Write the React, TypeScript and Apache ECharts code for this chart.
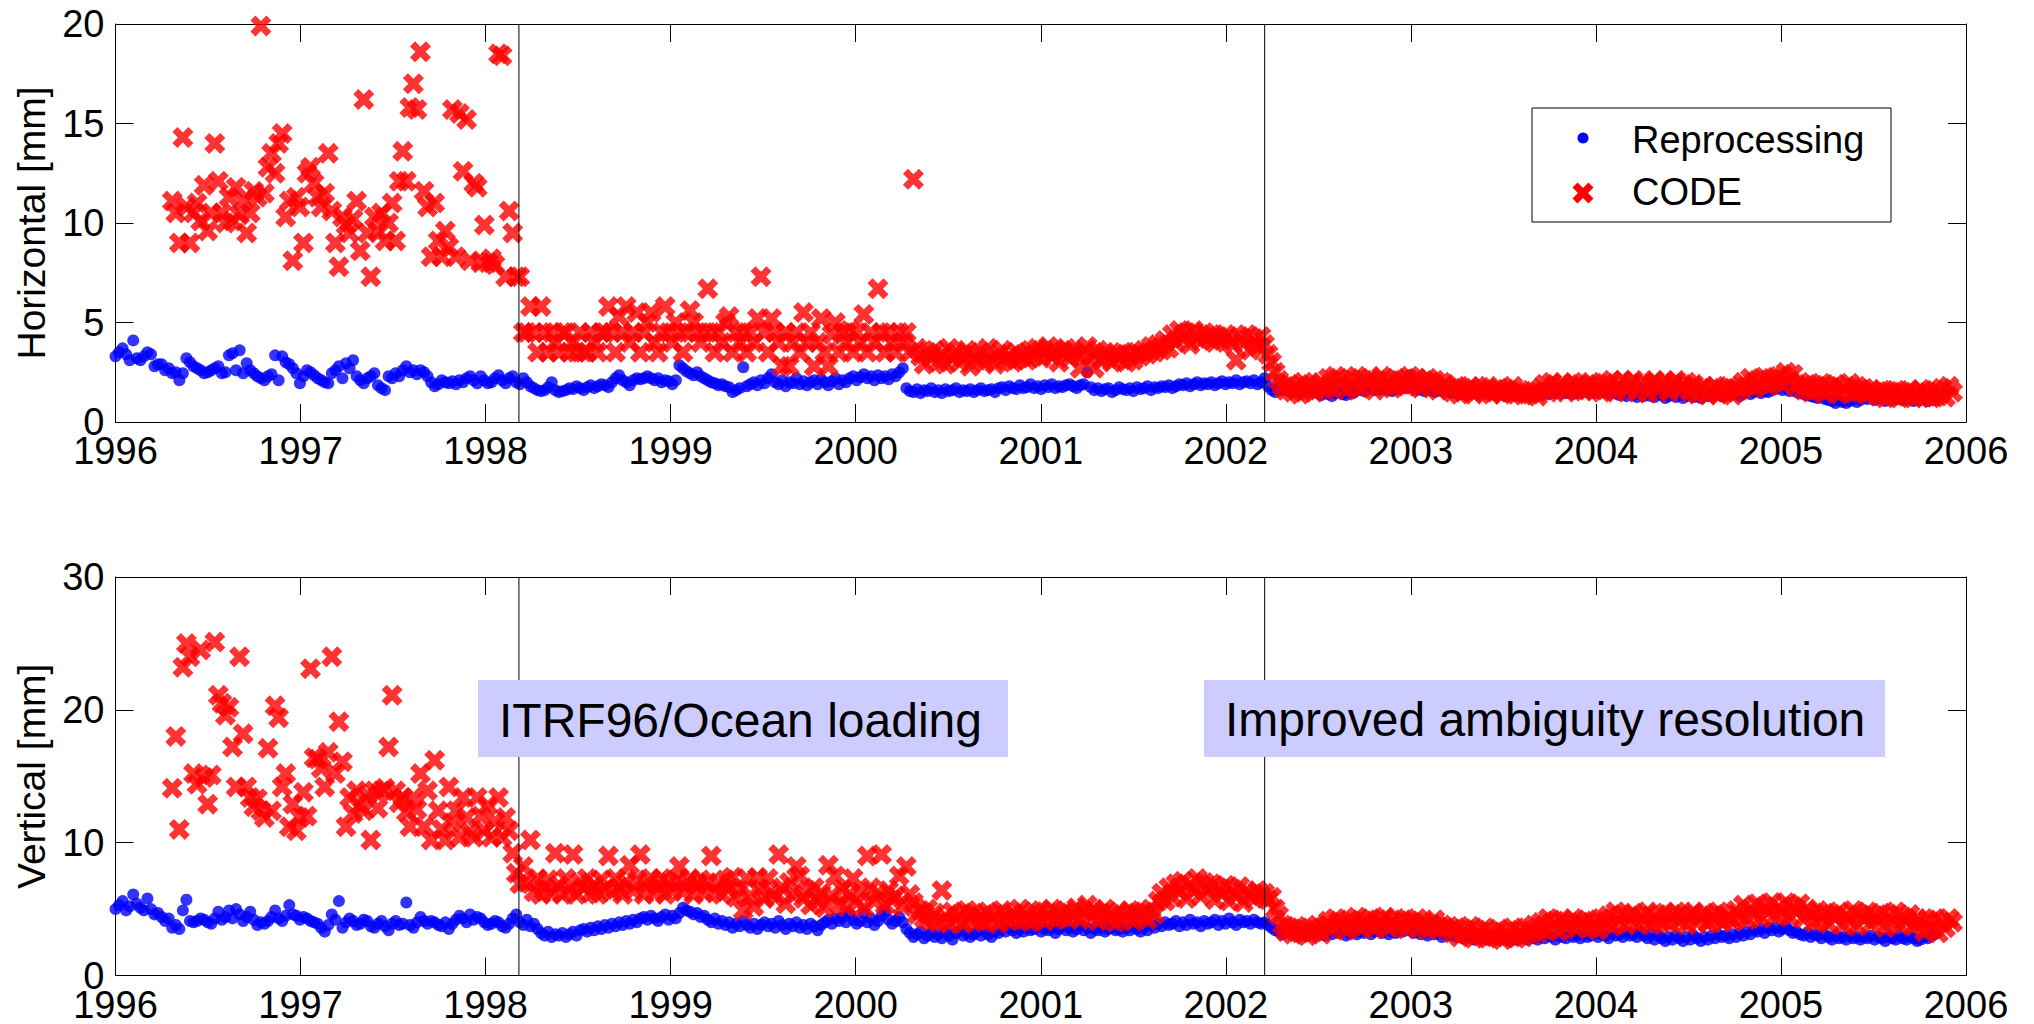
import React, { useEffect, useRef } from "react";
import * as echarts from "echarts";

// ---- time base: weekly solutions, index i -> 1996 + i weeks ----
const START_YEAR = 1996;
const WEEK = 7 / 365.25;
const X_TICKS = { min: 1996, max: 2006, interval: 1 };
const EVENT_EPOCHS = [1998.18, 2002.21];
const EVENT_LABELS = ["ITRF96/Ocean loading", "Improved ambiguity resolution"];
const LEGEND_NAMES = ["Reprocessing", "CODE"];
const Y_NAMES = ["Horizontal [mm]", "Vertical [mm]"];

// segment start indices (week numbers)
const REP_A0 = 0;
const CODE_A0 = 16;
const B0 = 114;
const C0 = 324;

// ---------------- Horizontal: Reprocessing ----------------
const hRepA = [
  3.3, 3.5, 3.7, 3.4, 3.1, 4.1, 3.2, 3.1, 3.3, 3.5, 3.4, 2.8, 2.9,
  2.9, 2.6, 2.7, 2.45, 2.5, 2.1, 2.45, 3.2, 3.0, 2.8, 2.7, 2.6, 2.45,
  2.5, 2.6, 2.7, 2.8, 2.45, 2.5, 3.35, 3.45, 2.6, 3.6, 2.45, 2.95, 2.6,
  2.45, 2.3, 2.2, 2.1, 2.3, 2.4, 3.35, 2.1, 3.3, 3.0, 2.9, 2.7, 2.45,
  1.95, 2.3, 2.6, 2.5, 2.35, 2.2, 2.1, 2.0, 1.95, 2.45, 2.6, 2.8, 2.2,
  2.95, 2.7, 3.1, 2.3, 2.1, 1.95, 2.2, 2.3, 2.45, 1.85, 1.7, 1.6, 2.3,
  2.2, 2.45, 2.3, 2.6, 2.8, 2.5, 2.6, 2.4, 2.6, 2.5, 2.3, 2.0, 1.8,
  1.9, 2.1, 2.0, 1.95, 2.05, 1.9, 2.1, 2.0, 2.2, 2.3, 2.1, 1.95, 2.3,
  2.1, 1.95, 2.0, 2.2, 2.35, 2.1, 1.95, 2.2, 2.3, 2.0,
];
const hRepB = [
  1.9, 2.2, 2.0, 1.8, 1.7, 1.6, 1.55, 1.6, 1.75, 2.0, 1.6, 1.5, 1.55,
  1.6, 1.7, 1.65, 1.8, 1.7, 1.6, 1.75, 1.85, 1.7, 1.8, 1.9, 1.85, 1.75,
  2.0, 2.2, 2.35, 2.1, 2.0, 1.85, 2.1, 2.2, 2.15, 2.2, 2.3, 2.2, 2.1,
  2.2, 2.0, 2.1, 2.05, 1.9, 2.1, 2.85, 2.7, 2.55, 2.45, 2.35, 2.5, 2.3,
  2.2, 2.1, 2.0, 1.95, 1.85, 1.9, 1.8, 1.75, 1.5, 1.6, 1.7, 2.75, 1.8,
  1.9, 2.0, 1.85, 2.1, 1.95, 2.2, 2.4, 2.0, 1.9, 2.1, 1.8, 2.0, 1.95,
  2.2, 1.9, 2.05, 1.85, 2.0, 2.1, 1.9, 2.15, 2.0, 1.85, 2.05, 2.2, 1.9,
  2.1, 2.0, 2.2, 2.3, 2.1, 2.25, 2.4, 2.2, 2.3, 2.1, 2.35, 2.2, 2.3,
  2.15, 2.4, 2.3, 2.5, 2.7, 1.7, 1.55, 1.5, 1.65, 1.45, 1.6, 1.55, 1.7,
  1.5, 1.6, 1.45, 1.65, 1.55, 1.6, 1.7, 1.5, 1.6, 1.55, 1.65, 1.5, 1.6,
  1.7, 1.55, 1.6, 1.65, 1.5, 1.7, 1.75, 1.6, 1.8, 1.7, 1.65, 1.85, 1.7,
  1.75, 1.9, 1.7, 1.8, 1.65, 1.85, 1.75, 1.9, 1.7, 1.8, 1.75, 1.85, 1.9,
  1.8, 1.7, 1.85, 1.9, 2.5, 1.75, 1.6, 1.7, 1.55, 1.65, 1.7, 1.5, 1.6,
  1.75, 1.65, 1.6, 1.7, 1.55, 1.75, 1.65, 1.7, 1.8, 1.6, 1.75, 1.7, 1.8,
  1.75, 1.85, 1.7, 1.8, 1.9, 1.85, 1.95, 1.8, 1.9, 2.0, 1.85, 1.95, 1.9,
  2.0, 1.85, 1.95, 2.05, 1.9, 2.0, 1.95, 2.1, 1.9, 2.0, 2.05, 1.95, 2.1,
  1.9, 2.0,
];
const hRepC = [
  2.2, 1.8, 1.6, 1.5, 1.7, 1.6, 1.75, 1.55, 1.7, 1.6, 1.8, 1.65, 1.7,
  1.5, 1.6, 1.45, 1.35, 1.5, 1.4, 1.3, 1.45, 1.55, 1.4, 1.35, 1.5, 1.45,
  1.6, 1.7, 1.55, 1.65, 1.8, 1.6, 1.7, 1.65, 1.75, 1.6, 1.55, 1.7, 1.65,
  1.8, 1.7, 2.35, 1.75, 1.6, 1.7, 1.55, 1.65, 1.6, 1.5, 1.65, 1.55, 1.6,
  1.5, 1.45, 1.55, 1.4, 1.5, 1.35, 1.45, 1.5, 1.4, 1.55, 1.45, 1.4, 1.5,
  1.35, 1.45, 1.4, 1.3, 1.45, 1.35, 1.4, 1.3, 1.4, 1.35, 1.3, 1.4, 1.35,
  1.45, 1.5, 1.4, 1.55, 1.45, 1.6, 1.5, 1.45, 1.55, 1.4, 1.5, 1.45, 1.55,
  1.5, 1.6, 1.45, 1.55, 1.5, 1.65, 1.4, 1.5, 1.45, 1.35, 1.4, 1.3, 1.45,
  1.35, 1.25, 1.4, 1.3, 1.45, 1.3, 1.25, 1.4, 1.35, 1.2, 1.3, 1.4, 1.25,
  1.35, 1.2, 1.3, 1.4, 1.25, 1.3, 1.2, 1.35, 1.3, 1.45, 1.35, 1.4, 1.3,
  1.45, 1.35, 1.5, 1.4, 1.3, 1.45, 1.55, 1.4, 1.5, 1.6, 1.45, 1.55, 1.5,
  1.6, 1.65, 1.75, 1.6, 1.7, 1.55, 1.65, 1.5, 1.45, 1.4, 1.35, 1.3, 1.25,
  1.2, 1.3, 1.15, 1.1, 1.05, 0.95, 1.1, 1.0, 0.95, 1.05, 1.15, 1.0, 1.1,
  1.2, 1.15, 1.25, 1.1, 1.2, 1.15, 1.05, 1.2, 1.1, 1.15, 1.25, 1.1, 1.2,
  1.15, 1.05, 1.2, 1.1, 1.15, 1.05, 1.2, 1.1,
];

// ---------------- Horizontal: CODE ----------------
const hCodeA = [
  11.1, 10.5, 9.0, 14.3, 10.8, 9.0, 10.5, 11.0, 10.1, 11.9, 9.6, 10.5, 14.0,
  12.1, 10.5, 10.0, 11.3, 10.1, 11.8, 10.4, 11.1, 9.5, 10.5, 11.6, 11.3, 19.9,
  11.5, 12.8, 13.5, 12.5, 14.0, 14.5, 10.3, 11.1, 8.1, 11.3, 10.8, 9.0, 12.5,
  12.8, 12.0, 11.3, 10.8, 11.5, 13.5, 10.6, 9.0, 7.8, 10.3, 9.9, 9.5, 10.2,
  11.1, 8.6, 16.2, 9.5, 7.3, 10.3, 9.6, 10.5, 9.1, 10.0, 11.0, 9.1, 12.1,
  13.6, 12.1, 15.8, 17.0, 15.7, 18.6, 11.6, 10.8, 8.3, 11.0, 9.1, 8.3, 9.6,
  8.8, 15.7, 8.3, 15.5, 12.6, 15.2, 8.1, 12.0, 11.8, 8.0, 9.9, 8.0, 8.2,
  7.9, 18.5, 18.4, 7.3, 10.6, 9.5, 7.3,
];
const hCodeB = [
  7.3, 4.5, 4.5, 5.8, 4.5, 3.5, 5.8, 4.5, 3.5, 4.5, 4.0, 3.5, 4.5,
  4.5, 3.5, 4.0, 3.5, 4.5, 3.5, 3.5, 4.5, 4.0, 3.5, 4.5, 4.5, 5.8,
  4.5, 3.5, 5.3, 4.5, 5.8, 4.0, 4.5, 5.5, 3.5, 4.5, 5.0, 5.5, 4.0,
  3.5, 4.5, 5.8, 4.5, 4.0, 5.0, 4.5, 3.5, 4.5, 5.6, 5.0, 4.5, 4.0,
  4.5, 6.7, 4.5, 3.5, 4.5, 4.0, 5.0, 5.3, 3.5, 4.5, 4.0, 4.5, 3.5,
  4.5, 4.0, 5.2, 7.3, 4.5, 3.5, 5.2, 4.5, 4.0, 2.8, 4.5, 2.8, 4.0,
  4.5, 3.5, 5.5, 4.0, 4.5, 2.8, 4.0, 5.2, 3.5, 2.8, 4.4, 5.0, 3.5,
  4.5, 4.0, 4.6, 3.5, 4.5, 4.0, 5.4, 3.5, 4.5, 4.0, 6.7, 4.5, 3.5,
  4.5, 4.0, 3.5, 4.5, 4.0, 4.5, 3.5, 12.2, 3.7, 3.3, 2.9, 3.5, 3.2,
  3.6, 3.0, 3.4, 2.9, 3.7, 3.2, 3.5, 3.0, 3.3, 3.6, 2.8, 3.4, 3.1,
  3.5, 3.0, 3.7, 3.2, 2.9, 3.4, 3.6, 3.1, 3.3, 3.0, 3.5, 3.2, 3.4,
  3.1, 3.6, 3.3, 3.7, 3.2, 3.5, 3.8, 3.3, 3.6, 3.0, 3.5, 3.7, 3.2,
  3.6, 3.4, 2.7, 3.5, 3.8, 3.3, 2.7, 3.6, 3.1, 3.5, 3.3, 3.0, 3.4,
  3.2, 3.5, 3.0, 3.4, 3.1, 3.5, 3.3, 3.6, 3.4, 3.8, 3.5, 3.9, 3.6,
  4.1, 3.7, 4.4, 4.0, 4.6, 4.2, 4.5, 3.9, 4.6, 4.3, 4.1, 4.5, 4.2,
  4.4, 4.0, 4.3, 4.1, 4.4, 4.2, 3.9, 3.1, 4.3, 4.0, 4.4, 3.6, 4.2,
  3.8, 4.3,
];
const hCodeC = [
  3.9, 3.4, 3.0, 2.5, 2.1, 1.8, 1.6, 1.9, 1.5, 1.8, 1.4, 2.0, 1.6,
  1.9, 1.5, 1.8, 2.0, 1.6, 2.2, 1.7, 2.3, 1.9, 2.1, 1.6, 2.2, 1.8,
  2.3, 1.7, 2.1, 1.9, 2.2, 1.6, 2.0, 2.3, 1.8, 2.1, 1.7, 2.2, 1.9,
  2.1, 1.8, 2.3, 1.9, 2.2, 1.7, 2.0, 2.2, 1.8, 2.1, 1.6, 2.0, 1.9,
  1.7, 1.5, 1.8, 1.4, 1.7, 1.6, 1.8, 1.4, 1.6, 1.75, 1.5, 1.8, 1.4,
  1.6, 1.7, 1.4, 1.65, 1.5, 1.8, 1.4, 1.6, 1.35, 1.5, 1.4, 1.55, 1.3,
  1.7, 1.9, 1.5, 2.0, 1.6, 1.8, 1.95, 1.5, 1.7, 2.0, 1.6, 1.9, 1.55,
  1.8, 2.0, 1.6, 1.9, 1.5, 1.95, 1.7, 2.1, 1.5, 1.8, 2.1, 1.6, 1.9,
  2.1, 1.5, 1.8, 2.0, 1.45, 1.9, 2.1, 1.6, 1.85, 2.05, 1.5, 1.9, 2.1,
  1.6, 1.8, 2.0, 1.5, 1.9, 1.4, 1.7, 1.8, 1.35, 1.6, 1.8, 1.4, 1.7,
  1.5, 1.8, 1.35, 1.7, 1.6, 2.0, 1.8, 2.2, 1.7, 2.1, 1.9, 2.25, 1.8,
  2.2, 2.0, 2.3, 1.9, 2.5, 2.1, 2.4, 1.8, 2.0, 1.6, 1.9, 1.5, 1.85,
  1.6, 1.95, 1.45, 1.8, 1.6, 1.9, 1.4, 1.75, 1.55, 1.95, 1.45, 1.8, 1.5,
  1.7, 1.4, 1.65, 1.5, 1.3, 1.6, 1.2, 1.55, 1.35, 1.6, 1.2, 1.5, 1.3,
  1.6, 1.2, 1.45, 1.65, 1.25, 1.5, 1.2, 1.6, 1.3, 1.7, 1.25, 1.8, 1.5,
];

// ---------------- Vertical: Reprocessing ----------------
const vRepA = [
  5.0, 5.3, 5.6, 4.9, 5.2, 6.1, 5.4, 5.1, 4.9, 5.8, 5.0, 4.6, 4.7,
  4.4, 4.1, 4.3, 3.6, 3.8, 3.5, 4.9, 5.7, 4.1, 4.0, 4.1, 4.3, 4.2,
  4.0, 3.9, 4.3, 4.8, 4.2, 4.4, 4.9, 4.3, 5.0, 4.6, 4.1, 4.4, 4.8,
  4.2, 3.8, 4.0, 3.9, 4.1, 4.4, 4.9, 4.3, 4.1, 4.5, 5.3, 4.6, 4.5,
  4.2, 4.4, 4.3, 4.1, 4.0, 3.9, 3.6, 3.3, 3.8, 4.6, 4.2, 5.6, 3.6,
  4.0, 4.3, 4.1, 3.8, 3.9, 4.2, 4.1, 3.7, 3.6, 3.9, 4.1, 3.7, 3.4,
  3.9, 4.1, 3.8, 3.9, 5.5, 3.8, 3.6, 4.0, 4.4, 4.1, 3.9, 4.1, 4.0,
  3.8, 3.7, 4.0, 3.5, 3.9, 4.2, 4.5, 4.3, 4.0, 4.6, 4.2, 4.4, 4.3,
  4.0, 3.8, 3.9, 4.1, 4.0, 3.7, 3.6, 3.9, 4.3, 4.6,
];
const vRepB = [
  4.0, 3.8, 4.2, 3.7, 3.9, 3.5, 3.2, 3.0, 3.3, 2.9, 3.1, 3.0, 3.2,
  2.9, 3.1, 3.3, 3.0, 3.4, 3.5, 3.3, 3.6, 3.4, 3.7, 3.5, 3.8, 3.6,
  3.9, 3.7, 4.0, 3.8, 4.1, 3.9, 4.2, 4.0, 4.3, 4.4, 4.2, 4.5, 4.3,
  4.1, 4.4, 4.6, 4.2, 4.5, 4.3, 4.7, 5.1, 4.9, 4.8, 4.6, 4.7, 4.4,
  4.5, 4.2, 4.0, 4.3, 3.9, 4.1, 3.8, 4.0, 3.6, 3.9, 3.7, 4.1, 3.8,
  3.6, 3.9, 3.5, 3.8, 4.0, 3.7, 3.9, 3.6, 4.1, 3.8, 3.5, 3.9, 3.7,
  4.0, 3.6, 3.8, 3.5, 3.9, 3.7, 3.4, 3.8, 4.0, 4.2, 3.9, 4.3, 4.1,
  4.4, 4.0, 4.6, 4.2, 3.9, 4.1, 4.7, 4.0, 4.3, 3.8, 4.1, 4.5, 4.8,
  4.2, 3.9, 4.1, 4.4, 4.0, 3.5, 3.2, 2.9, 3.1, 3.3, 2.8, 3.0, 3.2,
  2.9, 3.1, 2.8, 3.3, 3.0, 2.7, 3.2, 3.4, 3.0, 3.2, 2.9, 3.1, 3.3,
  3.0, 3.4, 3.1, 2.9, 3.3, 3.2, 3.5, 3.3, 3.6, 3.4, 3.2, 3.5, 3.3,
  3.6, 3.4, 3.5, 3.7, 3.3, 3.5, 3.4, 3.6, 3.2, 3.5, 3.7, 3.4, 3.6,
  3.3, 3.5, 3.8, 3.4, 3.6, 3.2, 3.5, 3.4, 3.7, 3.3, 3.5, 3.6, 3.4,
  3.5, 3.3, 3.6, 3.4, 3.7, 3.5, 3.3, 3.6, 3.4, 3.8, 3.6, 3.9, 3.7,
  4.0, 3.8, 3.9, 4.1, 3.7, 4.0, 3.8, 4.2, 3.9, 4.0, 3.7, 4.1, 3.9,
  4.0, 4.2, 3.8, 4.1, 3.9, 4.3, 4.0, 3.8, 4.2, 4.0, 4.1, 3.9, 4.2,
  4.0, 3.9,
];
const vRepC = [
  4.0, 3.8, 3.6, 3.4, 3.3, 3.1, 3.3, 3.2, 3.4, 3.1, 3.3, 3.2, 3.0,
  3.3, 3.1, 3.4, 3.2, 3.0, 3.3, 3.1, 3.4, 3.2, 3.3, 3.0, 3.2, 3.4,
  3.1, 3.3, 3.2, 3.4, 3.1, 3.3, 3.5, 3.2, 3.4, 3.1, 3.3, 3.2, 3.4,
  3.3, 3.5, 3.4, 3.2, 3.3, 3.1, 3.2, 3.0, 3.3, 3.1, 3.2, 2.9, 3.1,
  3.0, 3.2, 2.9, 3.1, 2.8, 3.0, 2.9, 2.7, 2.9, 2.8, 3.0, 2.7, 2.9,
  2.8, 2.7, 2.9, 2.8, 2.6, 2.8, 2.7, 2.9, 2.8, 2.7, 2.9, 2.8, 2.7,
  2.9, 2.8, 3.0, 2.9, 2.7, 3.0, 2.9, 2.8, 3.1, 2.9, 3.0, 2.8, 3.1,
  2.9, 3.0, 3.2, 2.9, 3.1, 3.0, 2.8, 3.2, 3.0, 3.1, 2.9, 3.2, 3.0,
  3.1, 2.9, 3.3, 3.0, 2.8, 3.1, 2.7, 3.0, 2.8, 2.6, 2.9, 2.7, 3.0,
  2.8, 2.6, 2.9, 2.7, 3.0, 2.8, 2.6, 2.9, 2.7, 3.0, 2.8, 3.1, 2.9,
  3.0, 2.8, 3.1, 2.9, 3.2, 3.0, 3.3, 3.1, 3.4, 3.3, 3.5, 3.2, 3.6,
  3.4, 3.6, 3.3, 3.5, 3.7, 3.4, 3.2, 3.3, 3.1, 3.0, 3.2, 2.9, 3.1,
  3.0, 2.8, 3.1, 2.9, 2.7, 3.0, 2.8, 2.9, 2.7, 3.0, 2.8, 2.9, 2.7,
  2.9, 2.8, 3.0, 2.7, 2.9, 2.8, 2.6, 2.9, 2.8, 2.7, 3.0, 2.8, 2.7,
  2.9, 2.8, 2.6, 2.7, 2.9, 2.8, 3.0, 3.1,
];

// ---------------- Vertical: CODE ----------------
const vCodeA = [
  14.1, 18.0, 11.0, 23.2, 25.0, 24.0, 15.2, 14.4, 24.5, 14.9, 12.9, 15.1, 25.1,
  21.1, 20.5, 19.6, 20.2, 17.2, 14.2, 24.0, 18.2, 14.2, 13.4, 12.7, 13.3, 12.4,
  11.9, 17.1, 12.4, 20.3, 19.4, 14.2, 15.2, 11.2, 12.9, 10.9, 11.9, 13.8, 12.0,
  23.1, 16.4, 16.3, 15.6, 14.2, 16.8, 24.0, 15.2, 19.1, 16.1, 11.2, 13.4, 12.2,
  13.9, 12.8, 12.4, 13.6, 10.2, 13.9, 12.6, 13.9, 14.1, 17.2, 21.1, 13.9, 13.0,
  13.4, 12.3, 11.2, 13.4, 12.5, 15.2, 11.2, 13.9, 10.2, 16.2, 12.4, 11.0, 10.2,
  14.2, 11.5, 12.4, 10.4, 13.4, 11.9, 10.8, 10.4, 13.4, 12.0, 10.9, 12.8, 10.4,
  11.6, 13.4, 10.4, 11.9, 10.9, 9.2, 7.7,
];
const vCodeB = [
  6.9, 8.2, 7.0, 10.2, 6.3, 7.3, 6.1, 6.6, 7.2, 6.2, 9.2, 6.8, 6.1,
  7.3, 6.4, 9.1, 6.1, 7.0, 6.6, 7.3, 6.2, 6.8, 6.1, 7.2, 6.5, 9.0,
  6.3, 7.3, 6.6, 6.1, 7.0, 8.3, 6.4, 7.2, 9.1, 6.1, 6.9, 7.3, 6.2,
  6.7, 7.3, 6.1, 7.0, 6.4, 7.2, 8.2, 6.3, 6.9, 7.3, 6.1, 6.8, 7.2,
  6.2, 7.0, 9.0, 6.3, 6.9, 6.1, 7.2, 6.6, 7.4, 5.9, 6.4, 4.9, 7.3,
  6.0, 5.2, 7.4, 6.5, 5.8, 7.3, 6.2, 5.9, 9.1, 6.6, 5.4, 7.0, 6.1,
  8.2, 7.5, 5.8, 6.4, 5.3, 6.6, 5.6, 6.2, 5.1, 8.3, 6.0, 7.5, 5.4,
  6.5, 5.2, 6.1, 7.3, 5.5, 6.3, 5.1, 9.0, 6.6, 5.6, 6.2, 9.1, 5.3,
  6.4, 5.7, 6.0, 7.5, 5.2, 8.2, 6.1, 5.5, 4.6, 4.9, 4.3, 5.0, 4.1,
  4.7, 4.0, 6.4, 4.4, 3.9, 4.8, 4.2, 4.6, 3.9, 4.9, 4.3, 4.7, 4.1,
  4.5, 4.0, 4.8, 4.2, 4.6, 3.9, 4.9, 4.4, 4.1, 4.7, 4.3, 5.0, 4.2,
  4.6, 4.0, 4.8, 4.3, 4.9, 4.1, 4.5, 5.0, 4.2, 4.7, 4.4, 4.9, 4.3,
  4.6, 5.1, 4.2, 4.8, 5.3, 4.4, 4.9, 4.1, 4.7, 5.0, 4.3, 4.6, 4.0,
  4.8, 4.2, 4.5, 4.9, 4.1, 4.7, 4.4, 4.8, 4.2, 5.0, 4.6, 5.6, 6.2,
  5.6, 6.6, 5.9, 6.9, 6.3, 7.1, 5.8, 6.8, 6.4, 7.3, 6.0, 7.0, 6.5,
  6.9, 5.7, 6.6, 6.2, 6.8, 5.6, 6.5, 6.0, 6.7, 5.5, 6.3, 6.1, 5.8,
  6.4, 6.0,
];
const vCodeC = [
  6.2, 5.7, 5.9, 5.0, 4.5, 3.8, 3.3, 3.6, 3.1, 3.7, 3.2, 3.5, 3.0,
  3.6, 3.3, 3.8, 3.1, 3.7, 4.1, 3.5, 4.3, 3.8, 4.0, 3.4, 4.2, 3.7,
  4.4, 3.6, 4.1, 3.9, 4.3, 3.5, 4.2, 3.8, 4.4, 3.6, 4.0, 4.3, 3.7,
  4.2, 3.5, 4.1, 3.9, 4.3, 3.6, 4.0, 3.4, 3.9, 4.2, 3.6, 3.8, 3.5,
  3.7, 3.2, 3.6, 2.9, 3.5, 3.1, 3.7, 2.8, 3.4, 3.0, 3.6, 2.8, 3.3,
  2.9, 3.5, 2.7, 3.3, 3.0, 3.6, 2.8, 3.4, 2.9, 3.6, 3.1, 3.8, 3.2,
  4.0, 3.4, 4.3, 3.6, 4.1, 3.3, 4.2, 3.7, 3.9, 4.3, 3.5, 4.0, 3.8,
  4.2, 3.6, 4.1, 3.4, 4.3, 3.9, 4.5, 3.7, 4.8, 4.0, 4.6, 3.8, 4.4,
  4.7, 3.9, 4.5, 4.1, 4.8, 3.8, 4.3, 4.6, 4.0, 4.7, 3.9, 4.4, 4.8,
  4.1, 4.6, 3.8, 4.5, 4.8, 4.0, 4.4, 4.7, 3.9, 4.5, 4.2, 4.8, 4.0,
  4.6, 4.3, 4.1, 4.9, 4.4, 5.3, 4.2, 5.0, 4.6, 5.4, 4.3, 5.2, 4.8,
  5.5, 4.5, 5.1, 4.7, 5.5, 4.4, 5.2, 4.8, 5.4, 4.3, 5.0, 4.6, 4.0,
  4.9, 4.2, 4.7, 3.9, 4.6, 4.4, 4.8, 3.8, 4.5, 4.1, 4.9, 3.7, 4.6,
  4.3, 4.8, 3.9, 4.5, 4.2, 4.7, 3.6, 4.6, 4.0, 4.8, 3.8, 4.4, 4.1,
  4.6, 3.7, 4.3, 3.9, 3.3, 4.2, 3.5, 4.3, 3.2, 4.0, 3.6, 4.3, 4.0,
];

// ---------------- helpers ----------------
const FONT = '"Liberation Sans", Arial, Helvetica, sans-serif';
const BLUE = "#0000ff";
const RED = "#ff0000";
const BOX_FILL = "#ccccff";
const X_PATH =
  "path://M0,2.4L2.4,0L5,2.6L7.6,0L10,2.4L7.4,5L10,7.6L7.6,10L5,7.4L2.4,10L0,7.6L2.6,5Z";
const X_POLY = [
  [0, 2.4], [2.4, 0], [5, 2.6], [7.6, 0], [10, 2.4], [7.4, 5],
  [10, 7.6], [7.6, 10], [5, 7.4], [2.4, 10], [0, 7.6], [2.6, 5],
];

function toPoints(start: number, vals: number[]) {
  return vals.map((v, k) => [START_YEAR + (start + k) * WEEK, v]);
}

function mkX(grid: number, position: "top" | "bottom", labels: boolean) {
  return {
    type: "value",
    gridIndex: grid,
    position,
    min: X_TICKS.min,
    max: X_TICKS.max,
    interval: X_TICKS.interval,
    axisLine: { show: true, onZero: false, lineStyle: { color: "#000", width: 1 } },
    axisTick: { show: true, inside: true, length: 18, lineStyle: { color: "#000", width: 1 } },
    axisLabel: {
      show: labels,
      fontSize: 38,
      lineHeight: 28,
      fontFamily: FONT,
      color: "#000",
      margin: 15,
      formatter: (v: number) => String(Math.round(v)),
    },
    splitLine: { show: false },
  };
}

function mkY(grid: number, position: "left" | "right", max: number, interval: number, name: string | null) {
  return {
    type: "value",
    gridIndex: grid,
    position,
    min: 0,
    max,
    interval,
    name: name || "",
    nameLocation: "middle",
    nameRotate: 90,
    nameGap: 64,
    nameTextStyle: { fontSize: 39, fontFamily: FONT, color: "#000" },
    axisLine: { show: true, onZero: false, lineStyle: { color: "#000", width: 1 } },
    axisTick: { show: true, inside: true, length: 18, lineStyle: { color: "#000", width: 1 } },
    axisLabel: {
      show: position === "left",
      fontSize: 38,
      lineHeight: 28,
      fontFamily: FONT,
      color: "#000",
      margin: 11,
    },
    splitLine: { show: false },
  };
}

function eventLine(xIdx: number, yIdx: number, epoch: number, top: number) {
  return {
    type: "line",
    xAxisIndex: xIdx,
    yAxisIndex: yIdx,
    data: [
      [epoch, 0],
      [epoch, top],
    ],
    symbol: "none",
    lineStyle: { color: "#000", width: 1 },
    silent: true,
    z: 5,
  };
}

export default function App() {
  const ref = useRef<HTMLDivElement>(null);

  useEffect(() => {
    if (!ref.current) return;
    document.body.style.margin = "0";
    const chart = echarts.init(ref.current, null, { renderer: "svg" });

    const hRep = [...toPoints(REP_A0, hRepA), ...toPoints(B0, hRepB), ...toPoints(C0, hRepC)];
    const hCode = [...toPoints(CODE_A0, hCodeA), ...toPoints(B0, hCodeB), ...toPoints(C0, hCodeC)];
    const vRep = [...toPoints(REP_A0, vRepA), ...toPoints(B0, vRepB), ...toPoints(C0, vRepC)];
    const vCode = [...toPoints(CODE_A0, vCodeA), ...toPoints(B0, vCodeB), ...toPoints(C0, vCodeC)];

    const legX = 1583;
    const xs = 2.1;
    const legendX = X_POLY.map(([px, py]) => [legX + (px - 5) * xs, 193 + (py - 5) * xs]);

    const option: any = {
      animation: false,
      backgroundColor: "#ffffff",
      textStyle: { fontFamily: FONT },
      grid: [
        { left: 115.5, top: 24, width: 1850.5, height: 398 },
        { left: 115.5, top: 577, width: 1850.5, height: 398.5 },
      ],
      xAxis: [mkX(0, "bottom", true), mkX(0, "top", false), mkX(1, "bottom", true), mkX(1, "top", false)],
      yAxis: [
        mkY(0, "left", 20, 5, Y_NAMES[0]),
        mkY(0, "right", 20, 5, null),
        mkY(1, "left", 30, 10, Y_NAMES[1]),
        mkY(1, "right", 30, 10, null),
      ],
      series: [
        {
          name: LEGEND_NAMES[0],
          type: "scatter",
          xAxisIndex: 0,
          yAxisIndex: 0,
          data: hRep,
          symbol: "circle",
          symbolSize: 12,
          itemStyle: { color: BLUE },
          silent: true,
          z: 2,
        },
        {
          name: LEGEND_NAMES[1],
          type: "scatter",
          xAxisIndex: 0,
          yAxisIndex: 0,
          data: hCode,
          symbol: X_PATH,
          symbolSize: 21,
          itemStyle: { color: RED },
          silent: true,
          z: 3,
        },
        {
          name: LEGEND_NAMES[0],
          type: "scatter",
          xAxisIndex: 2,
          yAxisIndex: 2,
          data: vRep,
          symbol: "circle",
          symbolSize: 12,
          itemStyle: { color: BLUE },
          silent: true,
          z: 2,
        },
        {
          name: LEGEND_NAMES[1],
          type: "scatter",
          xAxisIndex: 2,
          yAxisIndex: 2,
          data: vCode,
          symbol: X_PATH,
          symbolSize: 21,
          itemStyle: { color: RED },
          silent: true,
          z: 3,
        },
        eventLine(0, 0, EVENT_EPOCHS[0], 20),
        eventLine(0, 0, EVENT_EPOCHS[1], 20),
        eventLine(2, 2, EVENT_EPOCHS[0], 30),
        eventLine(2, 2, EVENT_EPOCHS[1], 30),
      ],
      graphic: [
        // legend
        {
          type: "rect",
          shape: { x: 1532, y: 108, width: 359, height: 114 },
          style: { fill: "#fff", stroke: "#000", lineWidth: 1 },
          z: 100,
        },
        {
          type: "circle",
          shape: { cx: legX, cy: 138, r: 5.5 },
          style: { fill: BLUE },
          z: 101,
        },
        {
          type: "polygon",
          shape: { points: legendX },
          style: { fill: RED },
          z: 101,
        },
        {
          type: "text",
          x: 1632,
          y: 140,
          style: { text: LEGEND_NAMES[0], font: `38px ${FONT}`, fill: "#000", verticalAlign: "middle" },
          z: 101,
        },
        {
          type: "text",
          x: 1632,
          y: 192,
          style: { text: LEGEND_NAMES[1], font: `38px ${FONT}`, fill: "#000", verticalAlign: "middle" },
          z: 101,
        },
        // annotation boxes
        {
          type: "rect",
          shape: { x: 478, y: 680, width: 530, height: 77 },
          style: { fill: BOX_FILL },
          z: 100,
        },
        {
          type: "text",
          x: 499,
          y: 720,
          style: { text: EVENT_LABELS[0], font: `48px ${FONT}`, fill: "#000", verticalAlign: "middle" },
          z: 101,
        },
        {
          type: "rect",
          shape: { x: 1204, y: 680, width: 681, height: 77 },
          style: { fill: BOX_FILL },
          z: 100,
        },
        {
          type: "text",
          x: 1225,
          y: 719,
          style: { text: EVENT_LABELS[1], font: `48px ${FONT}`, fill: "#000", verticalAlign: "middle" },
          z: 101,
        },
      ],
    };

    chart.setOption(option);
    return () => chart.dispose();
  }, []);

  return (
    <div
      ref={ref}
      style={{ position: "fixed", left: 0, top: 0, width: 2034, height: 1024, background: "#fff" }}
    />
  );
}
